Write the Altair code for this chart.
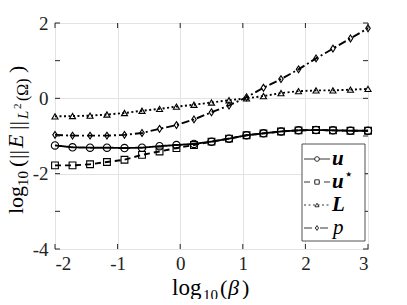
import altair as alt
import pandas as pd

# ---- data ----
X = [-2.0, -1.72, -1.44, -1.17, -0.89, -0.61, -0.33, -0.06, 0.22, 0.5,
     0.78, 1.06, 1.33, 1.61, 1.89, 2.17, 2.44, 2.72, 3.0]
U = [-1.25, -1.30, -1.31, -1.31, -1.32, -1.31, -1.27, -1.24, -1.21, -1.15,
     -1.07, -0.98, -0.93, -0.88, -0.85, -0.84, -0.85, -0.86, -0.86]
USTAR = [-1.78, -1.78, -1.75, -1.69, -1.63, -1.50, -1.41, -1.32, -1.24, -1.15,
         -1.07, -0.98, -0.93, -0.88, -0.85, -0.84, -0.85, -0.86, -0.86]
LL = [-0.48, -0.47, -0.46, -0.43, -0.39, -0.33, -0.28, -0.22, -0.17, -0.11,
      -0.05, 0.0, 0.06, 0.14, 0.19, 0.21, 0.21, 0.23, 0.25]
P = [-0.97, -0.99, -0.99, -0.99, -0.97, -0.92, -0.81, -0.71, -0.56, -0.37,
     -0.19, 0.03, 0.28, 0.51, 0.77, 1.06, 1.32, 1.59, 1.86]
SERIES = ["u", "ustar", "L", "p"]
X_TICKS = [-2, -1, 0, 1, 2, 3]
Y_TICKS = [-4, -3, -2, -1, 0, 1, 2]

W, H = 313, 226
FONT = "Liberation Serif"
AX = "#262626"

rows = []
for name, vals in zip(SERIES, [U, USTAR, LL, P]):
    for xv, yv in zip(X, vals):
        rows.append({"x": xv, "y": yv, "series": name})
df = pd.DataFrame(rows)

xs = alt.Scale(domain=[-2, 3], nice=False, zero=False)
ys = alt.Scale(domain=[-4, 2], nice=False, zero=False)
dash_scale = alt.Scale(domain=SERIES, range=[[1, 0], [6, 4], [2, 2.5], [8, 3, 2, 3]])
shape_scale = alt.Scale(domain=SERIES, range=["circle", "square", "triangle-up",
                                              "M0,-1.3L0.85,0L0,1.3L-0.85,0Z"])

axis_common = dict(title=None, grid=True, gridColor="#e3e3e3", gridWidth=1,
                   domain=False, ticks=False, labelFont=FONT, labelFontSize=19,
                   labelColor="#222222", labelExpr="'' + datum.value")
base = alt.Chart(df)
grid = base.mark_point(opacity=0).encode(
    x=alt.X("x:Q", scale=xs, axis=alt.Axis(values=X_TICKS, labelPadding=5, **axis_common)),
    y=alt.Y("y:Q", scale=ys, axis=alt.Axis(values=Y_TICKS, labelPadding=7, **axis_common)),
)
lines = base.mark_line(color="black", strokeWidth=1.9).encode(
    x="x:Q", y="y:Q", detail="series:N",
    strokeDash=alt.StrokeDash("series:N", scale=dash_scale, legend=None),
)
points = base.mark_point(filled=False, color="black", strokeWidth=1.1, opacity=1).encode(
    x="x:Q", y="y:Q",
    shape=alt.Shape("series:N", scale=shape_scale, legend=None),
    size=alt.Size("series:N", scale=alt.Scale(domain=SERIES, range=[55, 28, 85, 68]), legend=None),
)

tx = alt.Chart(pd.DataFrame({"x": X_TICKS}))
ty = alt.Chart(pd.DataFrame({"y": Y_TICKS}))
tick_b = tx.mark_rule(color=AX, strokeWidth=1).encode(x="x:Q", y=alt.value(H), y2=alt.value(H - 5))
tick_t = tx.mark_rule(color=AX, strokeWidth=1).encode(x="x:Q", y=alt.value(0), y2=alt.value(5))
tick_l = ty.mark_rule(color=AX, strokeWidth=1).encode(y="y:Q", x=alt.value(0), x2=alt.value(5))
tick_r = ty.mark_rule(color=AX, strokeWidth=1).encode(y="y:Q", x=alt.value(W), x2=alt.value(W - 5))

main = alt.layer(grid, lines, points, tick_b, tick_t, tick_l, tick_r)

# ---- legend ----
leg_df = pd.DataFrame({"row": [0, 1, 2, 3], "series": SERIES,
                       "label": ["u", "u", "L", "p"]})
ry = alt.Scale(domain=[0, 3], range=[136, 205])
lg = alt.Chart(leg_df)
leg_box = alt.Chart(pd.DataFrame({"row": [0]})).mark_rect(
    fill="white", stroke=AX, strokeWidth=0.8).encode(
    x=alt.value(247), x2=alt.value(310), y=alt.value(121), y2=alt.value(218))
leg_lines = lg.mark_rule(color="black", strokeWidth=0.8).encode(
    x=alt.value(249), x2=alt.value(275),
    y=alt.Y("row:Q", scale=ry, axis=None),
    strokeDash=alt.StrokeDash("series:N", scale=dash_scale, legend=None))
leg_pts = lg.mark_point(filled=True, fill="white", stroke="black", strokeWidth=0.8, opacity=1).encode(
    x=alt.value(262), y=alt.Y("row:Q", scale=ry, axis=None),
    shape=alt.Shape("series:N", scale=shape_scale, legend=None),
    size=alt.Size("series:N", scale=alt.Scale(domain=SERIES, range=[22, 14, 30, 28]), legend=None))
leg_bold = lg.transform_filter("datum.row < 3").mark_text(
    font=FONT, fontSize=21, fontStyle="italic", fontWeight="bold", align="left",
    baseline="middle", color="black").encode(
    x=alt.value(277), y=alt.Y("row:Q", scale=ry, axis=None), text="label:N")
leg_ital = lg.transform_filter("datum.row == 3").mark_text(
    font=FONT, fontSize=21, fontStyle="italic", align="left",
    baseline="middle", color="black").encode(
    x=alt.value(278), y=alt.Y("row:Q", scale=ry, axis=None), text="label:N")
leg_star = lg.transform_filter("datum.row == 1").mark_text(
    font="DejaVu Sans", fontSize=15, align="left", baseline="middle", color="black",
    dy=-8, text="\u22c6").encode(
    x=alt.value(289), y=alt.Y("row:Q", scale=ry, axis=None))
legend = alt.layer(leg_box, leg_lines, leg_pts, leg_bold, leg_ital, leg_star)


# ---- axis titles built from pieces ----
def piece(text, x, y, size, dx=0, dy=0, style="normal", angle=0, font=FONT):
    kw = dict(font=font, fontSize=size, fontStyle=style, align="left",
              baseline="alphabetic", color="black", text=text, dx=dx, dy=dy)
    if angle:
        kw["angle"] = angle
    return alt.Chart(pd.DataFrame({"row": [0]})).mark_text(**kw).encode(
        x=alt.value(x), y=alt.value(y))


YX, YY = -32, 191
ytitle = [
    piece("log", YX, YY, 22, dx=0, angle=270),
    piece("10", YX, YY, 15, dx=28, dy=5, angle=270),
    piece("(", YX, YY, 22, dx=47, dy=1, angle=270),
    piece("||", YX, YY, 22, dx=55, dy=1, angle=270),
    piece("E", YX, YY, 22, dx=66, style="italic", angle=270),
    piece("||", YX, YY, 22, dx=84, dy=1, angle=270),
    piece("L", YX, YY, 15, dx=95, dy=5, style="italic", angle=270),
    piece("2", YX, YY, 11, dx=105, dy=-2, angle=270),
    piece("(\u03a9)", YX, YY, 16, dx=113, dy=5, angle=270),
    piece(")", YX, YY, 22, dx=141, dy=1, angle=270),
]
XB = 272
xtitle = [
    piece("log", 117, XB, 23),
    piece("10", 148, XB, 15, dy=5),
    piece("(", 165, XB, 22),
    piece("\u03b2", 173, XB, 22, style="italic"),
    piece(")", 187, XB, 22),
]

chart = alt.layer(main, legend, *ytitle, *xtitle).resolve_scale(
    x="independent", y="independent", shape="independent",
    strokeDash="independent", size="independent"
).properties(
    width=W, height=H, autosize=alt.AutoSizeParams(type="none"),
    padding={"left": 47, "top": 15, "right": 31, "bottom": 50},
    background="white",
).configure_view(stroke=AX, strokeWidth=1)

chart.save("out.html", embed_options={"renderer": "svg", "actions": False})
